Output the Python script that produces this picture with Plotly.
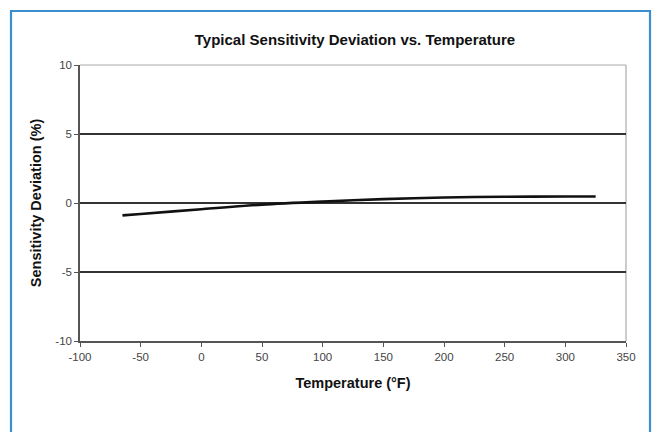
import plotly.graph_objects as go

# Data
temperature_f = [-65, -50, 0, 50, 100, 150, 200, 250, 300, 325]
sensitivity_dev = [-0.9, -0.8, -0.45, -0.12, 0.1, 0.28, 0.4, 0.45, 0.47, 0.47]

x_ticks = [-100, -50, 0, 50, 100, 150, 200, 250, 300, 350]
y_ticks = [-10, -5, 0, 5, 10]

W, H = 655, 432
FONT = "Liberation Sans, Arial, sans-serif"

fig = go.Figure()
fig.add_trace(go.Scatter(
    x=temperature_f, y=sensitivity_dev, mode="lines",
    line=dict(color="#111111", width=2.6, shape="spline", smoothing=0.8),
    hoverinfo="skip", showlegend=False,
))

x_dom = [80 / W, 626 / W]
y_dom = [1 - 341 / H, 1 - 65 / H]

fig.update_layout(
    width=W, height=H,
    margin=dict(l=0, r=0, t=0, b=0, autoexpand=False),
    paper_bgcolor="white", plot_bgcolor="white",
    font=dict(family=FONT, color="#222222"),
    title=dict(text="<b>Typical Sensitivity Deviation vs. Temperature</b>",
               x=355 / W, xanchor="center", y=1 - 40 / H, yanchor="middle",
               automargin=False,
               font=dict(size=15, color="#111111", family=FONT)),
    xaxis=dict(domain=x_dom, range=[-100, 350], tickvals=x_ticks,
               ticktext=[str(v) for v in x_ticks], automargin=False,
               showgrid=False, zeroline=False,
               showline=True, linecolor="#555555", linewidth=1.5,
               ticks="outside", ticklen=4, tickcolor="#555555",
               tickfont=dict(size=11.5, color="#444444"),
               title=dict(text="<b>Temperature (°F)</b>", standoff=16,
                          font=dict(size=14.5, color="#111111"))),
    yaxis=dict(domain=y_dom, range=[-10, 10], tickvals=y_ticks,
               ticktext=[str(v) for v in y_ticks], automargin=False,
               showgrid=True, gridcolor="#333333", gridwidth=1.6,
               zeroline=False,
               showline=True, linecolor="#555555", linewidth=1.5,
               ticks="outside", ticklen=4, tickcolor="#555555",
               tickfont=dict(size=11.5, color="#444444"),
               title=dict(text="<b>Sensitivity Deviation (%)</b>", standoff=10,
                          font=dict(size=14.5, color="#111111"))),
    shapes=[
        dict(type="line", xref="x domain", yref="y domain", x0=0, x1=1, y0=1, y1=1,
             line=dict(color="#aaaaaa", width=1.2), layer="below"),
        dict(type="line", xref="x domain", yref="y domain", x0=1, x1=1, y0=0, y1=1,
             line=dict(color="#aaaaaa", width=1.2), layer="below"),
        dict(type="rect", xref="paper", yref="paper",
             x0=11 / W, x1=650 / W, y0=-0.05, y1=1 - 11 / H,
             line=dict(color="#3b8fd0", width=2.2)),
    ],
)

fig.write_html("out.html", config={"displayModeBar": False},
               post_script="document.body.style.margin='0';document.body.style.overflow='hidden';")
